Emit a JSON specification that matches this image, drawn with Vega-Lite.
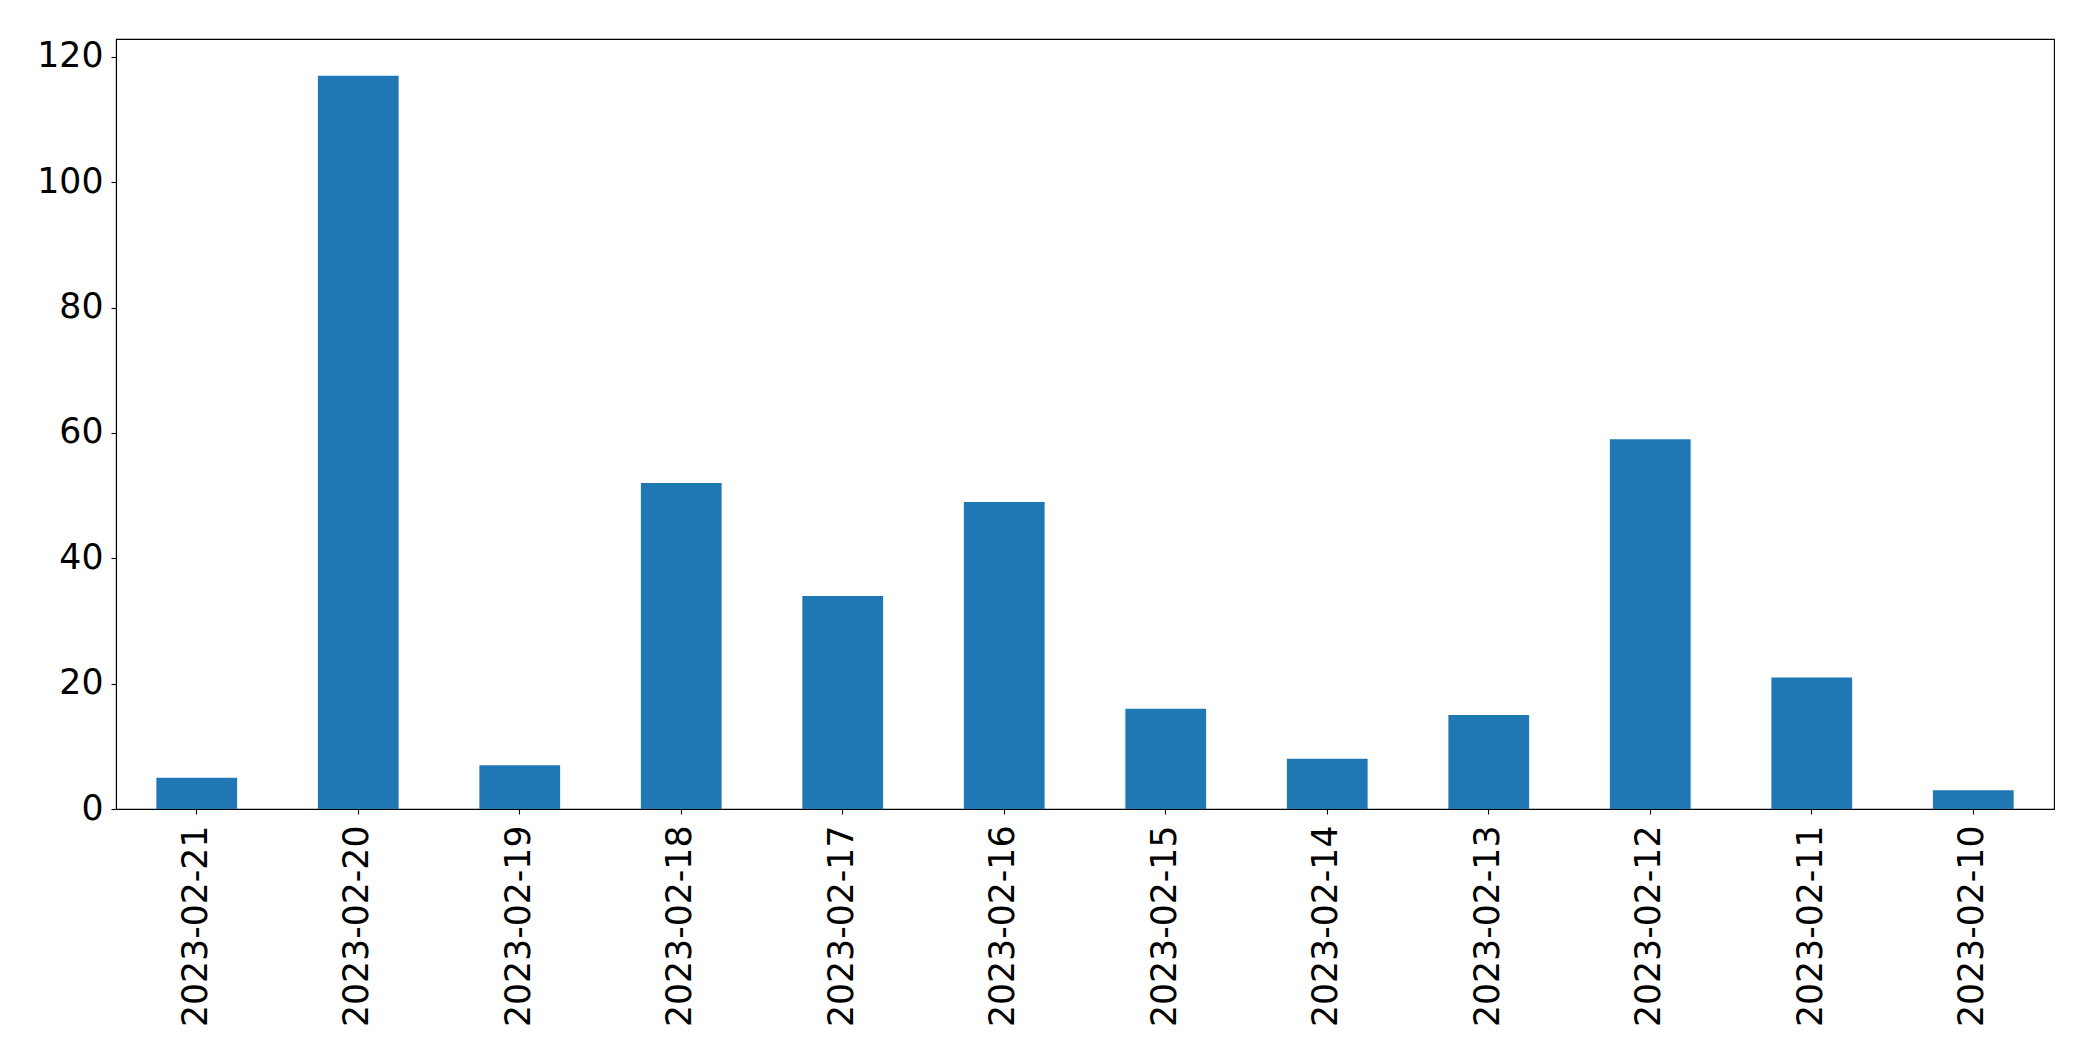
{
  "$schema": "https://vega.github.io/schema/vega-lite/v6.json",
  "autosize": "none",
  "width": 1938,
  "height": 770,
  "padding": {"left": 116, "top": 39, "right": 39, "bottom": 252},
  "background": "white",
  "config": {
    "font": "DejaVu Sans",
    "view": {"stroke": "black", "strokeWidth": 1.1},
    "axis": {
      "grid": false,
      "domainColor": "black",
      "domainWidth": 1.1,
      "tickColor": "black",
      "tickWidth": 1.1,
      "tickSize": 5,
      "labelFont": "DejaVu Sans",
      "labelFontSize": 34.7,
      "labelColor": "black",
      "labelLimit": 0,
      "title": null
    }
  },
  "data": {
    "values": [
      {"date": "2023-02-21", "count": 5},
      {"date": "2023-02-20", "count": 117},
      {"date": "2023-02-19", "count": 7},
      {"date": "2023-02-18", "count": 52},
      {"date": "2023-02-17", "count": 34},
      {"date": "2023-02-16", "count": 49},
      {"date": "2023-02-15", "count": 16},
      {"date": "2023-02-14", "count": 8},
      {"date": "2023-02-13", "count": 15},
      {"date": "2023-02-12", "count": 59},
      {"date": "2023-02-11", "count": 21},
      {"date": "2023-02-10", "count": 3}
    ]
  },
  "mark": {"type": "bar", "color": "#1f77b4"},
  "encoding": {
    "x": {
      "field": "date",
      "type": "nominal",
      "sort": null,
      "scale": {"paddingInner": 0.5, "paddingOuter": 0.25},
      "axis": {"labelAngle": -90, "labelPadding": 11, "labelAlign": "right", "labelBaseline": "middle"}
    },
    "y": {
      "field": "count",
      "type": "quantitative",
      "scale": {"domain": [0, 122.85], "nice": false, "zero": true},
      "axis": {"values": [0, 20, 40, 60, 80, 100, 120], "labelPadding": 8}
    }
  }
}
